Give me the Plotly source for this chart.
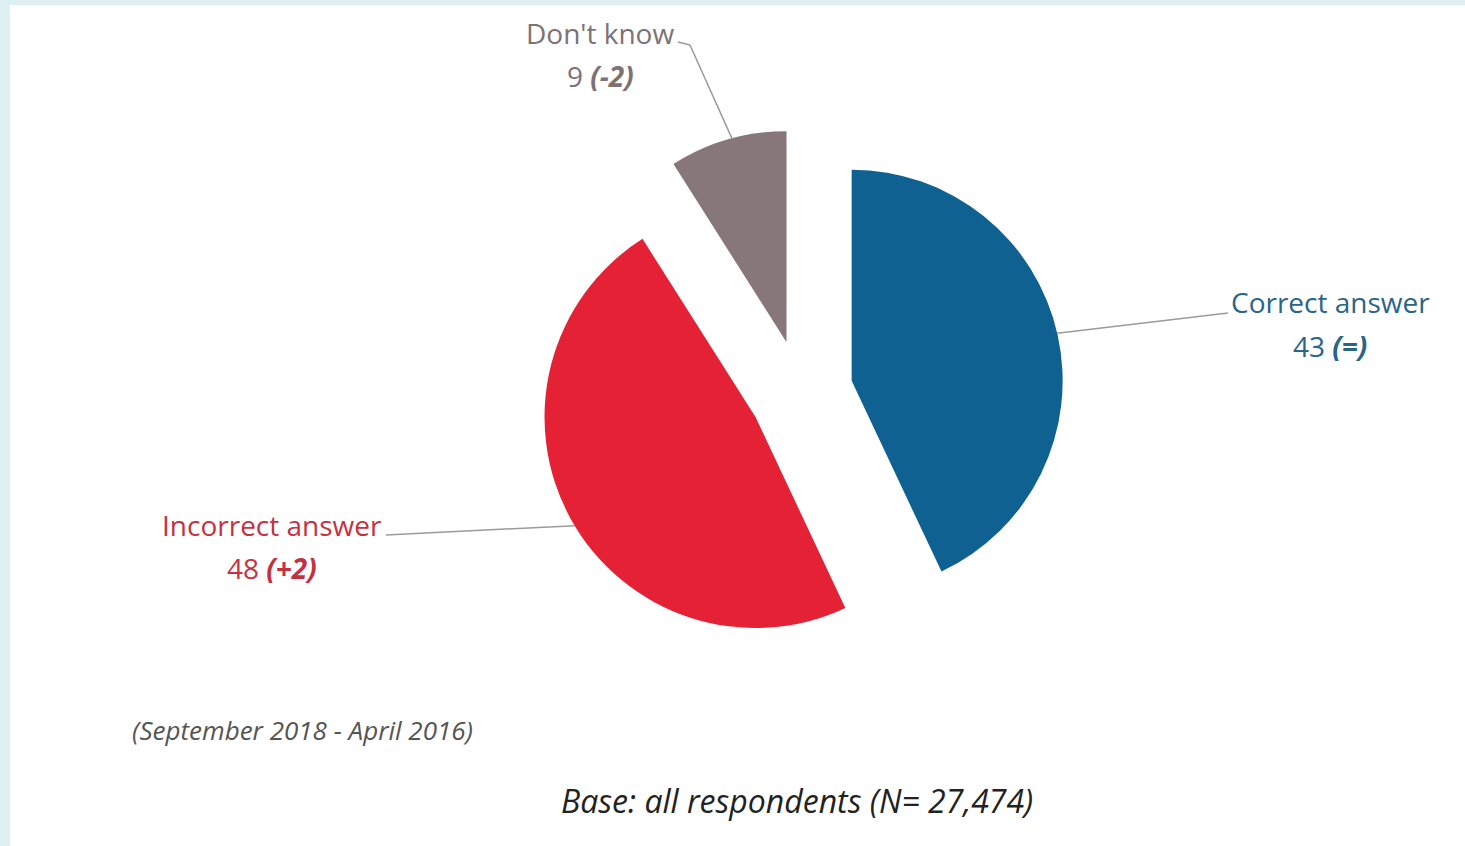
import math
import plotly.graph_objects as go

# Survey answers (percent) and change since the previous wave
categories = ["Correct answer", "Incorrect answer", "Don't know"]
values = [43, 48, 9]
changes = ["(=)", "(+2)", "(-2)"]
colors = ["#0e6191", "#e52235", "#877779"]
label_colors = ["#2a6489", "#c5323f", "#7d7273"]
period_note = "(September 2018 - April 2016)"
base_note = "Base: all respondents (N= 27,474)"

W, H = 1465, 846
FONT = "Open Sans"

# pie placement in pixels; every slice is exploded by the same amount
cx, cy, r = 801, 392, 211
pulls = [0.246, 0.246, 0.246]
half = r * (1 + max(pulls))
dom_x = [(cx - half) / W, (cx + half) / W]
dom_y = [1 - (cy + half) / H, 1 - (cy - half) / H]


def px(x):
    return x / W


def py(y):
    return 1 - y / H


# slice angles (clockwise from 12 o'clock)
total = sum(values)
mids = []
acc = 0.0
for v in values:
    mids.append((acc + v / 2) / total * 360)
    acc += v


def arc_point(i, ang):
    m = math.radians(mids[i])
    ax = cx + pulls[i] * r * math.sin(m)
    ay = cy - pulls[i] * r * math.cos(m)
    a = math.radians(ang)
    return ax + r * math.sin(a), ay - r * math.cos(a)


fig = go.Figure(
    go.Pie(
        labels=categories,
        values=values,
        sort=False,
        direction="clockwise",
        rotation=0,
        pull=pulls,
        marker=dict(colors=colors, line=dict(width=0)),
        textinfo="none",
        hoverinfo="label+value",
        domain=dict(x=dom_x, y=dom_y),
        showlegend=False,
    )
)

shapes = [
    # white panel with a pale blue frame on the top and left
    dict(type="rect", xref="paper", yref="paper", x0=px(10), x1=1, y0=0, y1=py(5),
         fillcolor="white", line=dict(width=0), layer="below"),
]

line_style = dict(color="#9b9b9b", width=1.5)

# leader lines
x1, y1 = arc_point(0, 77)
shapes.append(dict(type="line", xref="paper", yref="paper",
                   x0=px(x1), y0=py(y1), x1=px(1228), y1=py(313), line=line_style))
x1, y1 = arc_point(1, 239)
shapes.append(dict(type="line", xref="paper", yref="paper",
                   x0=px(x1), y0=py(y1), x1=px(386), y1=py(535), line=line_style))
x1, y1 = arc_point(2, 345)
shapes.append(dict(type="line", xref="paper", yref="paper",
                   x0=px(678), y0=py(42), x1=px(690), y1=py(45), line=line_style))
shapes.append(dict(type="line", xref="paper", yref="paper",
                   x0=px(690), y0=py(45), x1=px(x1), y1=py(y1), line=line_style))

label_pos = [(1330, 302, 346), (272, 525, 568), (600, 33, 76)]
annotations = []
for i, (lx, ty, vy) in enumerate(label_pos):
    annotations.append(dict(
        x=px(lx), y=py(ty), xref="paper", yref="paper", showarrow=False,
        text=categories[i], xanchor="center", yanchor="middle",
        font=dict(family=FONT, size=28, color=label_colors[i]),
    ))
    annotations.append(dict(
        x=px(lx), y=py(vy), xref="paper", yref="paper", showarrow=False,
        text=f"{values[i]} <b><i>{changes[i]}</i></b>", xanchor="center", yanchor="middle",
        font=dict(family=FONT, size=28, color=label_colors[i]),
    ))

annotations.append(dict(
    x=px(130), y=py(730), xref="paper", yref="paper", showarrow=False,
    text=f"<i>{period_note}</i>", xanchor="left", yanchor="middle",
    font=dict(family=FONT, size=26, color="#555555"),
))
annotations.append(dict(
    x=px(797), y=py(800), xref="paper", yref="paper", showarrow=False,
    text=f"<i>{base_note}</i>", xanchor="center", yanchor="middle",
    font=dict(family=FONT, size=32, color="#222222"),
))

fig.update_layout(
    width=W, height=H,
    margin=dict(l=0, r=0, t=0, b=0),
    paper_bgcolor="#dff0f3",
    plot_bgcolor="white",
    shapes=shapes,
    annotations=annotations,
)

fig.write_html("out.html", config={"displayModeBar": False})
